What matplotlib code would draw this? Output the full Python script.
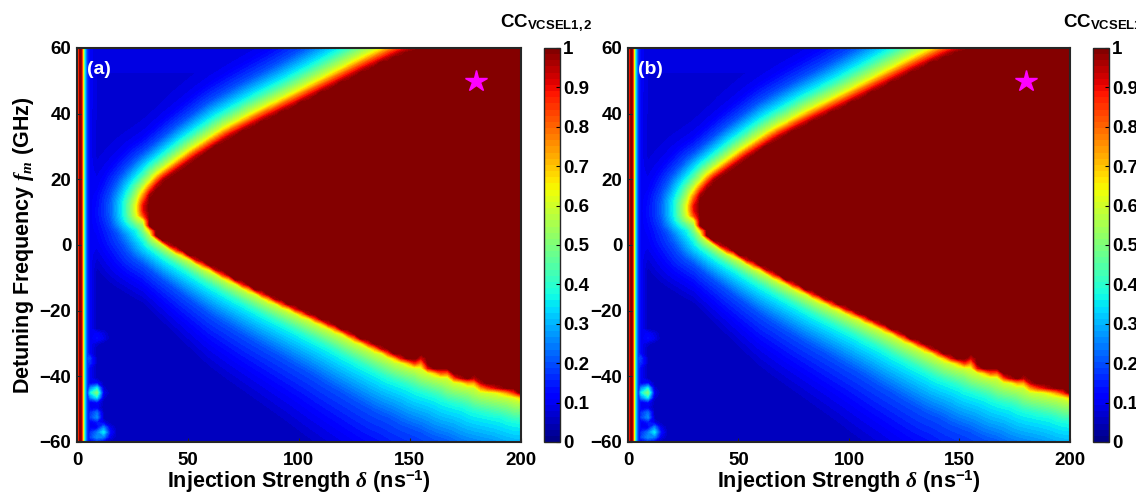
import numpy as np
import matplotlib.pyplot as plt

plt.rcParams['font.family'] = ['Liberation Sans', 'DejaVu Sans']
plt.rcParams['font.weight'] = 'bold'
plt.rcParams['axes.labelweight'] = 'bold'
plt.rcParams['mathtext.fontset'] = 'custom'
plt.rcParams['mathtext.rm'] = 'Liberation Sans:bold'
plt.rcParams['mathtext.it'] = 'Liberation Serif:italic:bold'
plt.rcParams['mathtext.bf'] = 'Liberation Sans:bold'

# edges of the CC ~ 1 (dark red) region
up_delta = [31, 33, 36, 39, 54, 69, 84, 99.5, 114.5, 129, 145, 153, 175, 200]
up_fm = [12, 15, 17.5, 19.6, 26.6, 32.8, 38, 42.9, 48, 53, 58, 60, 66, 72]
lo_delta = [31, 33, 36, 43.4, 58.8, 73.8, 88.7, 104, 119, 126.7, 146, 153, 155, 158,
            166, 168, 171, 178, 180, 183, 196, 200]
lo_fm = [10, 5.5, 2.5, -0.6, -6.1, -11.3, -16.2, -20.8, -25.4, -28, -34, -35.5, -33.5, -37,
         -38.5, -36.8, -40, -41, -39.6, -42.5, -44, -45]

# CC against (normalised) distance from the edge, above and below the red region
up_dist = [0, 0.012, 0.029, 0.065, 0.11, 0.16, 0.25]
up_cc = [0.98, 0.85, 0.62, 0.38, 0.2, 0.1, 0.05]
lo_dist = [0, 0.004, 0.01, 0.05, 0.124, 0.21, 0.3]
lo_cc = [0.98, 0.85, 0.62, 0.38, 0.2, 0.1, 0.03]
# how the band width changes with delta
up_sc_delta = [30, 60, 128, 200]
up_sc = [0.75, 0.92, 1.12, 1.25]
lo_sc_delta = [30, 60, 100, 150, 200]
lo_sc = [0.6, 0.85, 1.05, 1.3, 1.5]

# background level against detuning
bg_fm = [-60, -20, 5, 20, 60]
bg_cc = [0.02, 0.025, 0.05, 0.07, 0.08]

# thin red stripe at very weak injection
stripe_delta = [0, 0.8, 1.5, 2.2, 2.8, 3.4, 4.5, 6, 8]
stripe_cc = [0.3, 0.9, 1.0, 0.9, 0.6, 0.35, 0.18, 0.1, 0.0]

# isolated spots (delta, fm, CC)
spot_delta = [8, 8, 12, 8, 5, 17, 21, 25, 10]
spot_fm = [-45, -52, -57, -58, -35, 13, 12, 11.5, -28]
spot_cc = [0.55, 0.3, 0.35, 0.3, 0.2, 0.2, 0.28, 0.36, 0.15]

star_delta = 180
star_fm = 50


def build_map():
    d = np.concatenate([np.arange(0, 6, 0.5), np.linspace(6, 200, 66)])
    f = np.arange(-60, 60.1, 1.5)
    D, F = np.meshgrid(d, f)
    U, V = D / 200, (F + 60) / 120

    # densified edge curves
    dd = np.linspace(up_delta[0], 200, 600)
    uf = np.interp(dd, up_delta, up_fm)
    lf = np.interp(dd, lo_delta, lo_fm)
    tip_f = np.linspace(up_fm[0], lo_fm[0], 10)
    cu = np.concatenate([np.full(10, up_delta[0]) / 200, dd / 200])
    cv = np.concatenate([(tip_f + 60) / 120, (uf + 60) / 120])
    lu, lv = dd / 200, (lf + 60) / 120

    pts = np.stack([U.ravel(), V.ravel()], 1)
    dist_up = np.sqrt((pts[:, :1] - cu) ** 2 + (pts[:, 1:] - cv) ** 2).min(1).reshape(U.shape)
    dist_lo = np.sqrt((pts[:, :1] - lu) ** 2 + (pts[:, 1:] - lv) ** 2).min(1).reshape(U.shape)

    dist_up = dist_up / np.interp(D, up_sc_delta, up_sc)
    dist_lo = dist_lo / np.interp(D, lo_sc_delta, lo_sc)

    cc = np.interp(F, bg_fm, bg_cc)
    cc = np.maximum(cc, np.interp(dist_up, up_dist, up_cc))
    cc = np.maximum(cc, np.interp(dist_lo, lo_dist, lo_cc))
    cc = np.maximum(cc, np.interp(D, stripe_delta, stripe_cc))
    for sd, sf, sc in zip(spot_delta, spot_fm, spot_cc):
        r2 = ((D - sd) / 3.0) ** 2 + ((F - sf) / 2.5) ** 2
        cc = np.maximum(cc, sc * np.exp(-r2))

    inside = (D >= up_delta[0]) & (F <= np.interp(D, up_delta, up_fm)) & (F >= np.interp(D, lo_delta, lo_fm))
    cc[inside] = 1.0
    return d, f, np.clip(cc, 0, 1)


d, f, cc = build_map()

fig = plt.figure(figsize=(11.36, 4.94), dpi=100)
levels = np.linspace(0, 1, 65)
ax_pos = [[0.0678, 0.1053, 0.3904, 0.7976], [0.5528, 0.1053, 0.3891, 0.7976]]
cax_pos = [[0.4789, 0.1053, 0.0141, 0.7976], [0.9622, 0.1053, 0.0141, 0.7976]]
tags = ['(a)', '(b)']
title_x = [546 / 1136, 1063 / 1136]
title_ha = ['center', 'left']

for i in range(2):
    ax = fig.add_axes(ax_pos[i])
    cs = ax.contourf(d, f, cc, levels=levels, cmap='jet', vmin=0, vmax=1)
    ax.plot(star_delta, star_fm, marker='*', color='#ff00ff', ms=16, mec='#ff00ff')
    ax.text(4.4, 53.5, tags[i], color='white', fontsize=14, fontweight='bold', va='center')
    ax.set_xlim(0, 200)
    ax.set_ylim(-60, 60)
    ax.set_xticks([0, 50, 100, 150, 200])
    ax.set_yticks([-60, -40, -20, 0, 20, 40, 60])
    ax.tick_params(labelsize=13.5, direction='in', length=3, color='#262626')
    ax.tick_params(axis='x', pad=7)
    ax.tick_params(axis='y', pad=4)
    for s in ax.spines.values():
        s.set_color('#262626')
        s.set_linewidth(1.5)
    ax.set_xlabel(r'Injection Strength $\delta$ (ns$^{\mathregular{-1}}$)', fontsize=15.5, labelpad=0)
    if i == 0:
        ax.set_ylabel(r'Detuning Frequency $f_m$ (GHz)', fontsize=15.5, labelpad=3)

    cax = fig.add_axes(cax_pos[i])
    cb = fig.colorbar(cs, cax=cax, ticks=np.linspace(0, 1, 11))
    cb.ax.set_yticklabels([f'{t:g}' for t in np.linspace(0, 1, 11)])
    cb.ax.tick_params(labelsize=13.5, direction='in', length=3, pad=2)
    cb.outline.set_edgecolor('#262626')
    cb.outline.set_linewidth(1.0)
    fig.text(title_x[i], 0.953, r'CC$_{\mathregular{VCSEL1,2}}$', ha=title_ha[i],
             va='center', fontsize=13.5, fontweight='bold')

fig.savefig('out.png', dpi=100)
